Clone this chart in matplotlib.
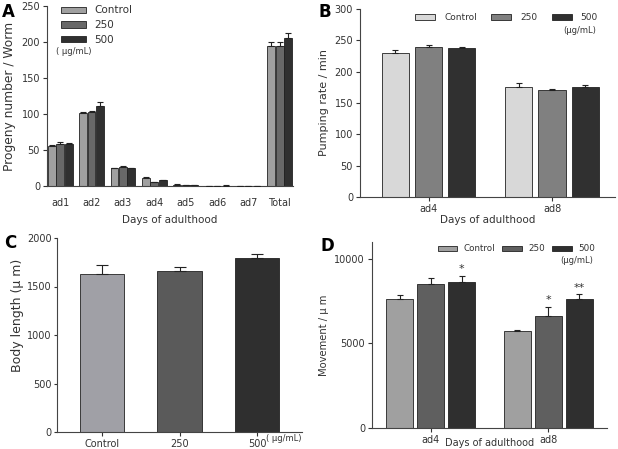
import numpy as np
import matplotlib.pyplot as plt

plt.rcParams['font.family'] = ['DejaVu Sans']
plt.rcParams['font.size'] = 7
plt.rcParams['text.color'] = '#333333'
plt.rcParams['axes.labelcolor'] = '#333333'
plt.rcParams['xtick.color'] = '#333333'
plt.rcParams['ytick.color'] = '#333333'
plt.rcParams['axes.edgecolor'] = '#444444'

groups = ["Control", "250", "500"]

# Panel A: progeny
days_a = ["ad1", "ad2", "ad3", "ad4", "ad5", "ad6", "ad7", "Total"]
prog_ctrl = [55, 102, 25, 11, 2, 0, 0, 195]
prog_250 = [58, 103, 27, 5, 1, 0, 0, 195]
prog_500 = [58, 111, 25, 8, 1, 0.5, 0, 205]
prog_ctrl_err = [2, 1, 0.5, 1, 0.3, 0, 0, 5]
prog_250_err = [2.5, 1, 1, 0.5, 0.3, 0, 0, 5]
prog_500_err = [1.5, 6, 0.5, 0.5, 0.3, 0.3, 0, 8]

# Panel B: pumping rate
days_b = ["ad4", "ad8"]
pump_ctrl = [230, 175]
pump_250 = [240, 170]
pump_500 = [237, 175]
pump_ctrl_err = [5, 7]
pump_250_err = [2, 3]
pump_500_err = [2, 4]

# Panel C: body length
body = [1630, 1660, 1790]
body_err = [90, 45, 45]

# Panel D: movement
move_ctrl = [7600, 5750]
move_250 = [8500, 6650]
move_500 = [8650, 7650]
move_ctrl_err = [250, 30]
move_250_err = [350, 500]
move_500_err = [350, 250]
move_stars = {(0, 2): "*", (1, 1): "*", (1, 2): "**"}

W, H = 618, 449
fig = plt.figure(figsize=(W / 100, H / 100), dpi=100)


def px_axes(l, t, r, b):
    return fig.add_axes([l / W, 1 - b / H, (r - l) / W, (b - t) / H])


def style(ax):
    ax.spines['top'].set_visible(False)
    ax.spines['right'].set_visible(False)
    ax.tick_params(length=3, width=0.8, pad=2)


def grouped(ax, series, errs, colors, width, step):
    x = np.arange(len(series[0]))
    n = len(series)
    for i, (vals, err, c) in enumerate(zip(series, errs, colors)):
        pos = x + (i - (n - 1) / 2) * step
        ax.bar(pos, vals, width, color=c, edgecolor='#222222', linewidth=0.6,
               label=groups[i], zorder=2)
        ax.errorbar(pos, vals, yerr=[np.zeros(len(err)), err], fmt='none',
                    ecolor='#222222', elinewidth=0.8, capsize=2.5, capthick=0.8, zorder=3)
    return x


# ---- A ----
axA = px_axes(47, 6, 293, 186)
style(axA)
xA = grouped(axA, [prog_ctrl, prog_250, prog_500],
             [prog_ctrl_err, prog_250_err, prog_500_err],
             ['#a0a0a0', '#686868', '#303030'], 0.25, 0.27)
axA.set_xticks(xA)
axA.set_xticklabels(days_a)
axA.tick_params(axis='x', length=0, pad=9)
axA.set_xlim(-0.42, 7.42)
axA.set_ylim(0, 250)
axA.set_yticks(range(0, 251, 50))
axA.set_ylabel("Progeny number / Worm", fontsize=8.8)
axA.set_xlabel("Days of adulthood", fontsize=7.5, labelpad=5)
axA.legend(loc='upper left', bbox_to_anchor=(0.02, 1.055), frameon=False,
           handlelength=2.4, handleheight=0.55, labelspacing=0.45, fontsize=7.5)
axA.text(0.035, 0.745, "( μg/mL)", transform=axA.transAxes, fontsize=6, va='center')

# ---- B ----
axB = px_axes(360, 9, 615, 197)
style(axB)
xB = grouped(axB, [pump_ctrl, pump_250, pump_500],
             [pump_ctrl_err, pump_250_err, pump_500_err],
             ['#d8d8d8', '#808080', '#303030'], 0.22, 0.27)
axB.set_xticks(xB)
axB.set_xticklabels(days_b)
axB.set_xlim(-0.555, 1.51)
axB.set_ylim(0, 300)
axB.set_yticks(range(0, 301, 50))
axB.set_ylabel("Pumping rate / min", fontsize=8)
axB.set_xlabel("Days of adulthood", fontsize=7.5, labelpad=1)
axB.legend(loc='upper right', bbox_to_anchor=(0.965, 1.02), ncol=3, frameon=False,
           handlelength=2.2, handleheight=0.55, columnspacing=1.6, handletextpad=1.0,
           fontsize=6.5)
axB.text(0.925, 0.885, "(μg/mL)", transform=axB.transAxes, fontsize=6, ha='right',
         va='center')

# ---- C ----
axC = px_axes(57, 238, 302, 432)
style(axC)
xC = np.arange(len(groups))
axC.bar(xC, body, 0.57, color=['#a0a0a6', '#5a5a5a', '#2f2f2f'],
        edgecolor='#222222', linewidth=0.6, zorder=2)
axC.errorbar(xC, body, yerr=[np.zeros(3), body_err], fmt='none', ecolor='#222222',
             elinewidth=0.8, capsize=4, capthick=0.8, zorder=3)
axC.set_xticks(xC)
axC.set_xticklabels(groups)
axC.tick_params(axis='y', length=2.5, pad=1.5)
axC.set_xlim(-0.58, 2.58)
axC.set_ylim(0, 2000)
axC.set_yticks(range(0, 2001, 500))
axC.set_ylabel("Body length (μ m)", fontsize=9)
axC.yaxis.set_label_coords(-0.135, 0.60)
axC.text(2.12, -20, "( μg/mL)", fontsize=6, va='top')

# ---- D ----
axD = px_axes(372, 242, 607, 428)
style(axD)
xD = grouped(axD, [move_ctrl, move_250, move_500],
             [move_ctrl_err, move_250_err, move_500_err],
             ['#a0a0a0', '#5f5f5f', '#2f2f2f'], 0.23, 0.265)
for (g, s), mark in move_stars.items():
    vals = [move_ctrl, move_250, move_500][s][g]
    err = [move_ctrl_err, move_250_err, move_500_err][s][g]
    axD.text(xD[g] + (s - 1) * 0.265, vals + err + 100, mark, ha='center',
             va='bottom', fontsize=8)
axD.set_xticks(xD)
axD.set_xticklabels(days_b)
axD.set_xlim(-0.50, 1.50)
axD.set_ylim(0, 11000)
axD.set_yticks([0, 5000, 10000])
axD.set_ylabel("Movement / μ m", fontsize=7.2)
axD.set_xlabel("Days of adulthood", fontsize=7, labelpad=-5)
axD.legend(loc='upper right', bbox_to_anchor=(0.985, 1.03), ncol=3, frameon=False,
           handlelength=2.2, handleheight=0.55, columnspacing=0.8, handletextpad=0.8,
           fontsize=6.3)
axD.text(0.94, 0.898, "(μg/mL)", transform=axD.transAxes, fontsize=6, ha='right',
         va='center')

# panel letters
for lbl, (x, y) in {"A": (2, 12), "B": (318, 12), "C": (4, 243), "D": (320, 246)}.items():
    fig.text(x / W, 1 - y / H, lbl, fontsize=12, fontweight='bold', color='black', va='center')

fig.savefig("out.png", dpi=100)
